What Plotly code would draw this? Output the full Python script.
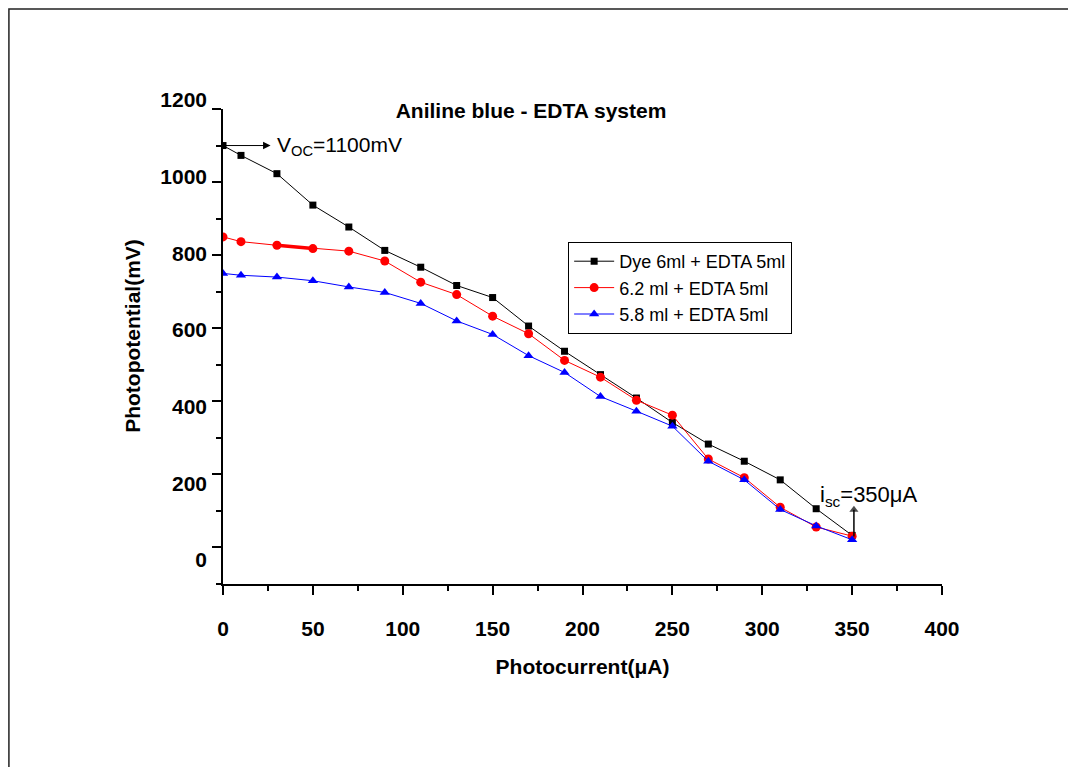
import plotly.graph_objects as go

# ---- data ----
photocurrent = [0, 10, 30, 50, 70, 90, 110, 130, 150, 170, 190, 210, 230, 250, 270, 290, 310, 330, 350]
dye_6ml = [1100, 1073, 1023, 937, 877, 813, 767, 717, 684, 606, 537, 473, 409, 342, 283, 236, 185, 106, 33]
dye_6_2ml = [850, 837, 827, 818, 811, 784, 726, 692, 633, 585, 512, 466, 403, 362, 242, 191, 110, 56, 31]
dye_5_8ml = [750, 745, 740, 730, 713, 698, 668, 620, 583, 525, 479, 413, 373, 332, 236, 185, 104, 59, 21]

series_names = ["Dye 6ml + EDTA 5ml", "6.2 ml + EDTA 5ml", "5.8 ml + EDTA 5ml"]
x_ticks = [0, 50, 100, 150, 200, 250, 300, 350, 400]
y_ticks = [0, 200, 400, 600, 800, 1000, 1200]
voc_value = 1100
isc_value = 350

FONT = "Arial, Liberation Sans, sans-serif"

# geometry (page has an 8px body margin)
L, T, B = 215, 80, 191
PW = 718.7
PH = 767 - T - B            # paper height
MAIN_TOP = 475 / PH          # main y-axis domain top

fig = go.Figure()

fig.add_trace(go.Scatter(
    x=photocurrent, y=dye_6ml, name=series_names[0], mode="lines+markers",
    line=dict(color="black", width=1),
    marker=dict(symbol="square", size=7, color="black")))

# thicker red segment as in the original
fig.add_trace(go.Scatter(
    x=photocurrent[2:4], y=dye_6_2ml[2:4], mode="lines", showlegend=False,
    line=dict(color="#ff0000", width=3.5), hoverinfo="skip"))

fig.add_trace(go.Scatter(
    x=photocurrent, y=dye_6_2ml, name=series_names[1], mode="lines+markers",
    line=dict(color="#ff0000", width=1),
    marker=dict(symbol="circle", size=9, color="#ff0000")))

fig.add_trace(go.Scatter(
    x=photocurrent, y=dye_5_8ml, name=series_names[2], mode="lines+markers",
    line=dict(color="#0000ff", width=1),
    marker=dict(symbol="triangle-up", size=9, color="#0000ff")))

# i_sc arrow (vertical, pointing up)
fig.add_trace(go.Scatter(
    x=[isc_value + 1, isc_value + 1], y=[30, 103], mode="lines+markers", showlegend=False,
    hoverinfo="skip", line=dict(color="black", width=1.5),
    marker=dict(symbol=["circle", "triangle-up"], size=[0, 8], color="black",
                line=dict(width=0))))

# invisible trace to carry the label axis
fig.add_trace(go.Scatter(x=[None], y=[None], yaxis="y2", showlegend=False,
                         hoverinfo="skip", mode="markers"))

fig.update_layout(
    width=1076, height=767,
    margin=dict(l=L, r=1076 - L - PW, t=T, b=B),
    paper_bgcolor="white", plot_bgcolor="rgba(0,0,0,0)",
    font=dict(family=FONT, color="black"),
    title=dict(text="<b>Aniline blue - EDTA system</b>", x=523 / 1076, y=1 - 103 / 767,
               xanchor="center", yanchor="middle", font=dict(size=21, family=FONT)),
    xaxis=dict(
        range=[0, 400], tickvals=x_ticks, ticktext=[f"<b>{v}</b>" for v in x_ticks],
        showgrid=False, zeroline=False, showline=True, linecolor="black", linewidth=2,
        ticks="outside", ticklen=9, tickwidth=2, tickcolor="black",
        minor=dict(ticks="outside", ticklen=5, tickwidth=2, tickcolor="black", dtick=25),
        tickfont=dict(size=21, family=FONT), ticklabelstandoff=16,
        title=dict(text="<b>Photocurrent(μA)</b>", font=dict(size=21, family=FONT), standoff=20),
    ),
    yaxis=dict(
        domain=[0, MAIN_TOP],
        range=[-100, 1200], tickvals=y_ticks, showticklabels=False,
        showgrid=False, zeroline=False, showline=True, linecolor="black", linewidth=2,
        ticks="outside", ticklen=9, tickwidth=2, tickcolor="black",
        minor=dict(ticks="outside", ticklen=5, tickwidth=2, tickcolor="black", dtick=100),
    ),
    yaxis2=dict(
        domain=[0, 1], anchor="free", position=0, side="left", range=[-62.6, 1231.3],
        tickvals=y_ticks, ticktext=[f"<b>{v}</b>" for v in y_ticks],
        showgrid=False, zeroline=False, showline=False, ticks="",
        tickfont=dict(size=21, family=FONT), ticklabelstandoff=16,
        title=dict(text="<b>Photopotential(mV)</b>", font=dict(size=21, family=FONT), standoff=12),
    ),
    legend=dict(
        x=(560 - L) / PW, y=(576 - 234) / PH, xanchor="left", yanchor="top",
        bgcolor="white", bordercolor="black", borderwidth=1, itemwidth=40,
        font=dict(size=18, family=FONT), tracegroupgap=0,
    ),
    showlegend=True,
)

# outer frame
fig.add_shape(type="rect", xref="paper", yref="paper",
              x0=(1 - L) / PW, x1=1.5, y0=-0.6, y1=(576 - 1) / PH,
              line=dict(color="#222222", width=1.5), fillcolor="rgba(0,0,0,0)", layer="below")

# V_OC arrow and label
fig.add_annotation(x=photocurrent[0], y=voc_value, ax=28.7, ay=voc_value, axref="x", ayref="y",
                   xref="x", yref="y", xanchor="left", yanchor="middle",
                   text="V<sub>OC</sub>=1100mV", showarrow=True, arrowside="start",
                   arrowhead=2, startarrowhead=2, startarrowsize=1.5, arrowwidth=1,
                   startstandoff=4, arrowcolor="black",
                   font=dict(size=21, family=FONT, color="black"))

# i_sc label
fig.add_annotation(x=331, y=140, xref="x", yref="y", xanchor="left", yanchor="middle",
                   text="i<sub>sc</sub>=350μA", showarrow=False,
                   font=dict(size=22, family=FONT, color="black"))

fig.write_html("out.html")
